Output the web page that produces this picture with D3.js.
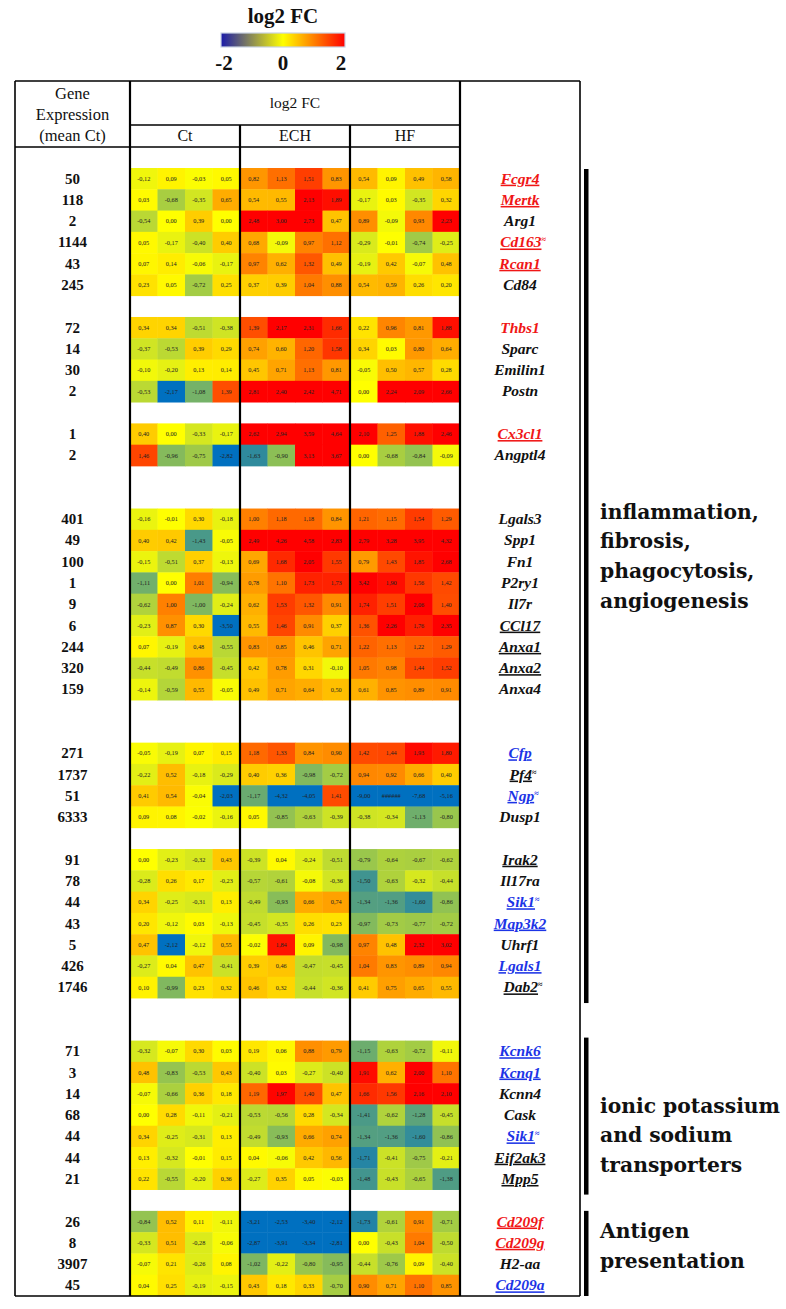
<!DOCTYPE html>
<html><head><meta charset="utf-8">
<script src="https://cdn.jsdelivr.net/npm/d3@7"></script>
<style>body{margin:0;background:#fff}svg{display:block}</style>
</head><body>
<script>
// ---------------- DATA ----------------
const genes = ["Fcgr4","Mertk","Arg1","Cd163","Rcan1","Cd84",
  "Thbs1","Sparc","Emilin1","Postn",
  "Cx3cl1","Angptl4",
  "Lgals3","Spp1","Fn1","P2ry1","Il7r","CCl17","Anxa1","Anxa2","Anxa4",
  "Cfp","Pf4","Ngp","Dusp1",
  "Irak2","Il17ra","Sik1","Map3k2","Uhrf1","Lgals1","Dab2",
  "Kcnk6","Kcnq1","Kcnn4","Cask","Sik1","Eif2ak3","Mpp5",
  "Cd209f","Cd209g","H2-aa","Cd209a"];
const meanCt = [50,118,2,1144,43,245, 72,14,30,2, 1,2, 401,49,100,1,9,6,244,320,159,
  271,1737,51,6333, 91,78,44,43,5,426,1746, 71,3,14,68,44,44,21, 26,8,3907,45];
const geneColor = ["r","r","k","r","r","k", "r","k","k","k", "r","k",
  "k","k","k","k","k","k","k","k","k", "b","k","b","k",
  "k","k","b","b","k","b","k", "b","b","k","k","b","k","k", "r","r","k","b"];
const geneUnderline = [1,1,0,1,1,0, 0,0,0,0, 1,0, 0,0,0,0,0,1,1,1,0, 1,1,1,0,
  1,0,1,1,0,1,1, 1,1,0,0,1,1,1, 1,1,0,1];
const geneApprox = [0,0,0,1,0,0, 0,0,0,0, 0,0, 0,0,0,0,0,0,0,0,0, 0,1,1,0,
  0,0,1,0,0,0,1, 0,0,0,0,1,0,0, 0,0,0,0];
const groupSizes = [6,4,2,9,4,7,7,4];
const groupGapBefore = [0,1,1,2,2,1,2,1];
const conditions = ["Ct","ECH","HF"];
const ctValues = [
  [-0.12,0.09,-0.03,0.05],[0.03,-0.68,-0.35,0.65],[-0.54,0.00,0.39,0.00],[0.05,-0.17,-0.40,0.40],[0.07,0.14,-0.06,-0.17],[0.23,0.05,-0.72,0.25],
  [0.34,0.34,-0.51,-0.38],[-0.37,-0.53,0.39,0.29],[-0.10,-0.20,0.13,0.14],[-0.53,-2.17,-1.08,1.39],
  [0.40,0.00,-0.33,-0.17],[1.46,-0.96,-0.75,-2.82],
  [-0.16,-0.01,0.30,-0.18],[0.40,0.42,-1.43,-0.05],[-0.15,-0.51,0.37,-0.13],[-1.11,0.00,1.01,-0.94],[-0.62,1.00,-1.00,-0.24],[-0.23,0.87,0.30,-3.50],[0.07,-0.19,0.48,-0.55],[-0.44,-0.49,0.86,-0.45],[-0.14,-0.59,0.55,-0.05],
  [-0.05,-0.19,0.07,0.15],[-0.22,0.52,-0.18,-0.29],[0.41,0.54,-0.04,-2.03],[0.09,0.08,-0.02,-0.16],
  [0.00,-0.23,-0.32,0.43],[-0.28,0.26,0.17,-0.23],[0.34,-0.25,-0.31,0.13],[0.20,-0.12,0.03,-0.13],[0.47,-2.12,-0.12,0.55],[-0.27,0.04,0.47,-0.41],[0.10,-0.99,0.23,0.32],
  [-0.32,-0.07,0.30,0.03],[0.48,-0.83,-0.53,0.43],[-0.07,-0.66,0.36,0.18],[0.00,0.28,-0.11,-0.21],[0.34,-0.25,-0.31,0.13],[0.13,-0.32,-0.01,0.15],[0.22,-0.55,-0.20,0.36],
  [-0.84,0.52,0.11,-0.11],[-0.33,0.51,-0.28,-0.06],[-0.07,0.21,-0.26,0.08],[0.04,0.25,-0.19,-0.15]];
const echValues = [
  [0.82,1.13,1.51,0.83],[0.54,0.55,2.13,1.89],[2.48,3.00,2.73,0.47],[0.68,-0.09,0.97,1.12],[0.97,0.62,1.32,0.49],[0.37,0.39,1.04,0.88],
  [1.39,2.17,2.31,1.66],[0.74,0.60,1.20,1.58],[0.45,0.71,1.13,0.81],[2.81,2.40,2.42,4.71],
  [2.62,2.94,3.59,4.64],[-1.63,-0.90,3.13,3.67],
  [1.00,1.18,1.18,0.84],[2.49,4.26,4.58,2.83],[0.69,1.68,2.05,1.55],[0.78,1.10,1.73,1.73],[0.62,1.53,1.32,0.91],[0.55,1.46,0.91,0.37],[0.83,0.85,0.46,0.71],[0.42,0.78,0.31,-0.10],[0.49,0.71,0.64,0.50],
  [1.18,1.33,0.84,0.90],[0.40,0.36,-0.98,-0.72],[-1.17,-4.32,-4.05,1.41],[0.05,-0.85,-0.63,-0.39],
  [-0.39,0.04,-0.24,-0.51],[-0.57,-0.61,-0.08,-0.36],[-0.49,-0.93,0.66,0.74],[-0.45,-0.35,0.26,0.23],[-0.02,1.84,0.09,-0.98],[0.39,0.46,-0.47,-0.45],[0.46,0.32,-0.44,-0.36],
  [0.19,0.06,0.88,0.79],[-0.40,0.03,-0.27,-0.40],[1.19,1.97,1.40,0.47],[-0.53,-0.56,0.28,-0.34],[-0.49,-0.93,0.66,0.74],[0.04,-0.06,0.42,0.56],[-0.27,0.35,0.05,-0.03],
  [-3.21,-2.53,-3.40,-2.12],[-2.87,-3.91,-3.34,-2.81],[-1.02,-0.22,-0.80,-0.95],[0.43,0.18,0.33,-0.70]];
const hfValues = [
  [0.54,0.09,0.49,0.58],[-0.17,0.03,-0.35,0.32],[0.89,-0.09,0.93,2.23],[-0.29,-0.01,-0.74,-0.25],[-0.19,0.42,-0.07,0.48],[0.54,0.59,0.26,0.20],
  [0.22,0.96,0.81,1.88],[0.34,0.03,0.80,0.64],[-0.05,0.50,0.57,0.28],[0.00,2.24,2.09,2.66],
  [2.10,1.25,1.88,2.46],[0.00,-0.68,-0.84,-0.09],
  [1.21,1.15,1.54,1.29],[2.79,3.28,3.95,4.32],[0.79,1.43,1.85,2.68],[3.42,1.90,1.56,1.42],[1.74,1.51,2.06,1.40],[1.36,2.26,1.76,2.35],[1.22,1.13,1.22,1.29],[1.05,0.98,1.44,1.52],[0.61,0.85,0.89,0.91],
  [1.42,1.44,1.93,1.80],[0.94,0.92,0.66,0.40],[-9.00,null,-7.68,-5.16],[-0.38,-0.34,-1.13,-0.80],
  [-0.79,-0.64,-0.67,-0.62],[-1.50,-0.63,-0.32,-0.44],[-1.34,-1.36,-1.60,-0.86],[-0.97,-0.73,-0.77,-0.72],[0.97,0.48,2.32,3.02],[1.04,0.83,0.89,0.94],[0.41,0.75,0.65,0.55],
  [-1.15,-0.63,-0.72,-0.11],[1.91,0.62,2.00,1.10],[1.66,1.56,2.16,2.10],[-1.41,-0.62,-1.28,-0.45],[-1.34,-1.36,-1.60,-0.86],[-1.71,-0.41,-0.75,-0.21],[-1.48,-0.43,-0.65,-1.38],
  [-1.73,-0.61,0.91,-0.71],[0.00,-0.43,1.04,-0.50],[-0.44,-0.76,0.09,-0.40],[0.90,0.71,1.10,0.85]];
const legendTicks = [-2,0,2];
const categoryLabels = [["inflammation,","fibrosis,","phagocytosis,","angiogenesis"],
  ["ionic potassium","and sodium","transporters"],["Antigen","presentation"]];
const categoryGroups = [[0,5],[6,6],[7,7]];

// ---------------- LAYOUT ----------------
const W = 786, H = 1309;
const serif = "'Palatino Linotype','Book Antiqua',Palatino,'Liberation Serif',serif";
const wide = "'Bookman Old Style','DejaVu Serif',serif";
const svg = d3.select("body").append("svg").attr("width", W).attr("height", H);

const rowIdx = []; const groupRange = [];
let r = 0;
groupSizes.forEach((n, g) => {
  r += groupGapBefore[g];
  groupRange.push([r, r + n]);
  for (let k = 0; k < n; k++) rowIdx.push(r++);
});
const nRows = r;
const T = {top: 81, sub: 125, head: 147, bottom: 1296, left: 15, c0: 130, c1: 460, right: 580};
const y = d3.scaleLinear().domain([0, nRows]).range([168, T.bottom]);
const x = d3.scaleLinear().domain([0, 12]).range([T.c0, T.c1]);
const color = d3.scaleLinear().domain([-2, 0, 2]).range(["#0070c0", "#ffff00", "#ff0000"]).clamp(true);
const f2 = d3.format(".2f");
const fmt = v => v == null ? "######" : f2(v).replace("\u2212", "-").replace(".", ",");
const colorOf = {r: "#f01616", b: "#1c34e6", k: "#111"};

// cells
const series = [ctValues, echValues, hfValues];
const cells = [];
genes.forEach((g, i) => series.forEach((s, c) => s[i].forEach((v, j) =>
  cells.push({row: rowIdx[i], col: c * 4 + j, v}))));
const cg = svg.append("g");
cg.selectAll("rect").data(cells).join("rect")
  .attr("x", d => x(d.col)).attr("y", d => y(d.row))
  .attr("width", x(1) - x(0) + 0.4).attr("height", y(1) - y(0) + 0.4)
  .attr("fill", d => color(d.v == null ? -10 : d.v));
cg.selectAll("text").data(cells).join("text")
  .attr("x", d => x(d.col + 0.5)).attr("y", d => y(d.row + 0.5) + 2.2)
  .attr("text-anchor", "middle").attr("font-family", "'Liberation Serif',serif")
  .attr("font-size", 6.3).attr("fill", "#222").text(d => fmt(d.v));

// table lines
const lines = [
  [T.left, T.top, T.right, T.top, 1.6], [T.c0, T.sub, T.c1, T.sub, 1.6],
  [T.left, T.head, T.c1, T.head, 1.6], [T.left, T.bottom, T.right, T.bottom, 1.6],
  [T.left, T.top, T.left, T.bottom, 1.6], [T.c0, T.top, T.c0, T.bottom, 2.2],
  [x(4), T.sub, x(4), T.bottom, 2.2], [x(8), T.sub, x(8), T.bottom, 2.2],
  [T.c1, T.top, T.c1, T.bottom, 2.2], [T.right, T.top, T.right, T.bottom, 1.6]];
svg.append("g").selectAll("line").data(lines).join("line")
  .attr("x1", d => d[0]).attr("y1", d => d[1]).attr("x2", d => d[2]).attr("y2", d => d[3])
  .attr("stroke", "#000").attr("stroke-width", d => d[4]);

// header texts
const hg = svg.append("g").attr("font-family", serif).attr("fill", "#111").attr("text-anchor", "middle");
["Gene", "Expression", "(mean Ct)"].forEach((t, k) =>
  hg.append("text").attr("x", (T.left + T.c0) / 2).attr("y", 99 + k * 21).attr("font-size", 16.5).text(t));
hg.append("text").attr("x", (T.c0 + T.c1) / 2).attr("y", 108).attr("font-size", 15.5).text("log2 FC");
conditions.forEach((c, k) =>
  hg.append("text").attr("x", x(k * 4 + 2)).attr("y", 141).attr("font-size", 16).text(c));

// mean Ct
svg.append("g").selectAll("text").data(meanCt).join("text")
  .attr("x", (T.left + T.c0) / 2).attr("y", (d, i) => y(rowIdx[i] + 0.5) + 5)
  .attr("text-anchor", "middle").attr("font-family", serif).attr("font-weight", "bold")
  .attr("font-size", 15).attr("fill", "#111").text(d => d);

// gene names
const gn = svg.append("g").attr("font-family", serif).attr("font-style", "italic")
  .attr("font-weight", "bold").attr("font-size", 15.5).attr("text-anchor", "middle");
genes.forEach((g, i) => {
  const t = gn.append("text").attr("x", (T.c1 + T.right) / 2 + (geneApprox[i] ? 3 : 0))
    .attr("y", y(rowIdx[i] + 0.5) + 5).attr("fill", colorOf[geneColor[i]]);
  t.append("tspan").attr("text-decoration", geneUnderline[i] ? "underline" : null).text(g);
  if (geneApprox[i]) t.append("tspan").attr("font-size", 8).attr("dy", -5).attr("font-style", "normal").text("\u2248");
});

// category bars and labels
const cat = svg.append("g");
const barPad = [[1, 5], [-3, 5], [0, 0]];
categoryGroups.forEach((gr, k) => {
  const y0 = y(groupRange[gr[0]][0]) + barPad[k][0], y1 = y(groupRange[gr[1]][1]) + barPad[k][1];
  cat.append("rect").attr("x", 584).attr("y", y0).attr("width", 4.5).attr("height", y1 - y0).attr("fill", "#000");
});
const labelAnchor = [16.2, 44.1, 50.0];
categoryLabels.forEach((lines, k) => lines.forEach((t, j) =>
  cat.append("text").attr("x", 600).attr("y", y(labelAnchor[k]) + j * 29.7 + 6)
    .attr("font-family", wide).attr("font-weight", "bold").attr("font-size", 20.3).attr("fill", "#111").text(t)));

// legend
const defs = svg.append("defs");
const lgId = "lgrad";
const grad = defs.append("linearGradient").attr("id", lgId);
[[0, "#1a1aa8"], [0.5, "#ffff00"], [1, "#ff0000"]].forEach(s =>
  grad.append("stop").attr("offset", s[0]).attr("stop-color", s[1]));
const lx = d3.scaleLinear().domain([-2, 2]).range([221, 345]);
svg.append("rect").attr("x", lx(-2)).attr("y", 33).attr("width", lx(2) - lx(-2)).attr("height", 14)
  .attr("fill", `url(#${lgId})`).attr("stroke", "#c9d2e3").attr("stroke-width", 1.2);
svg.append("text").attr("x", lx(0)).attr("y", 23).attr("text-anchor", "middle")
  .attr("font-family", serif).attr("font-weight", "bold").attr("font-size", 21).attr("fill", "#111").text("log2 FC");
svg.append("g").selectAll("text").data(legendTicks).join("text")
  .attr("x", d => lx(d) + (d < 0 ? 3 : d > 0 ? -4 : 0)).attr("y", 70).attr("text-anchor", "middle")
  .attr("font-family", serif).attr("font-weight", "bold").attr("font-size", 21).attr("fill", "#111")
  .text(d => d < 0 ? "-" + Math.abs(d) : d);
</script>
</body></html>
